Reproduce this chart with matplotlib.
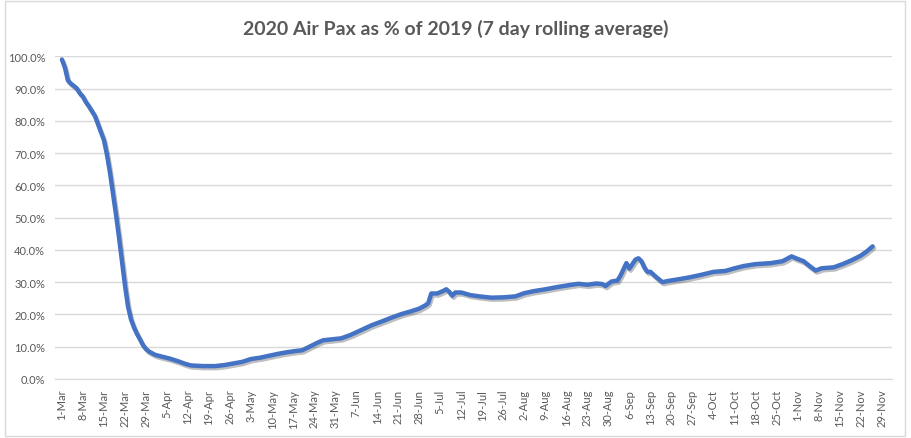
"""
2020 air passengers as a share of 2019, 7 day rolling average.
"""
import matplotlib
matplotlib.use('Agg')
import matplotlib.pyplot as plt
import matplotlib.patheffects as pe
from matplotlib.patches import Rectangle
from matplotlib.ticker import PercentFormatter
import pandas as pd

# Data (day, % of 2019)
dates = [
    '2020-03-01', '2020-03-02', '2020-03-03', '2020-03-04', '2020-03-05',
    '2020-03-06', '2020-03-07', '2020-03-08', '2020-03-09', '2020-03-10',
    '2020-03-11', '2020-03-12', '2020-03-13', '2020-03-14', '2020-03-15',
    '2020-03-16', '2020-03-17', '2020-03-18', '2020-03-19', '2020-03-20',
    '2020-03-21', '2020-03-22', '2020-03-23', '2020-03-24', '2020-03-25',
    '2020-03-26', '2020-03-27', '2020-03-28', '2020-03-29', '2020-03-30',
    '2020-04-01', '2020-04-03', '2020-04-06', '2020-04-09', '2020-04-11',
    '2020-04-13', '2020-04-17', '2020-04-21', '2020-04-24', '2020-04-27',
    '2020-04-30', '2020-05-03', '2020-05-06', '2020-05-09', '2020-05-12',
    '2020-05-15', '2020-05-18', '2020-05-20', '2020-05-22', '2020-05-25',
    '2020-05-27', '2020-05-30', '2020-06-02', '2020-06-05', '2020-06-09',
    '2020-06-12', '2020-06-16', '2020-06-19', '2020-06-22', '2020-06-25',
    '2020-06-28', '2020-06-30', '2020-07-01', '2020-07-02', '2020-07-04',
    '2020-07-06', '2020-07-07', '2020-07-08', '2020-07-09', '2020-07-10',
    '2020-07-12', '2020-07-15', '2020-07-18', '2020-07-22', '2020-07-26',
    '2020-07-30', '2020-08-02', '2020-08-05', '2020-08-09', '2020-08-13',
    '2020-08-17', '2020-08-20', '2020-08-23', '2020-08-26', '2020-08-28',
    '2020-08-29', '2020-08-31', '2020-09-02', '2020-09-03', '2020-09-05',
    '2020-09-06', '2020-09-08', '2020-09-09', '2020-09-10', '2020-09-11',
    '2020-09-12', '2020-09-13', '2020-09-15', '2020-09-17', '2020-09-19',
    '2020-09-23', '2020-09-26', '2020-09-30', '2020-10-04', '2020-10-08',
    '2020-10-11', '2020-10-14', '2020-10-18', '2020-10-23', '2020-10-27',
    '2020-10-30', '2020-11-01', '2020-11-03', '2020-11-05', '2020-11-07',
    '2020-11-09', '2020-11-13', '2020-11-16', '2020-11-19', '2020-11-22',
    '2020-11-24', '2020-11-26',
]
pax_pct = [
    99.0, 96.5, 92.5, 91.5, 90.8,
    90.0, 88.5, 87.5, 85.8, 84.5,
    83.0, 81.5, 79.0, 76.5, 74.0,
    69.5, 64.0, 57.5, 51.0, 44.0,
    36.5, 29.0, 22.5, 18.5, 16.0,
    14.0, 12.3, 10.5, 9.3, 8.5,
    7.5, 7.0, 6.3, 5.4, 4.7,
    4.2, 4.0, 4.0, 4.3, 4.8,
    5.3, 6.2, 6.6, 7.2, 7.8,
    8.3, 8.7, 8.9, 9.8, 11.2,
    12.0, 12.3, 12.6, 13.6, 15.3,
    16.6, 18.0, 19.1, 20.1, 20.9,
    21.8, 22.8, 23.5, 26.5, 26.5,
    27.3, 27.8, 27.0, 25.8, 26.8,
    26.8, 26.0, 25.6, 25.2, 25.3,
    25.6, 26.6, 27.2, 27.8, 28.5,
    29.1, 29.5, 29.2, 29.6, 29.4,
    28.8, 30.2, 30.5, 32.0, 35.9,
    34.2, 37.0, 37.4, 36.5, 34.5,
    33.2, 33.2, 31.5, 30.0, 30.4,
    31.0, 31.5, 32.3, 33.2, 33.5,
    34.3, 35.0, 35.6, 35.9, 36.5,
    38.0, 37.2, 36.5, 35.0, 33.6,
    34.3, 34.6, 35.6, 36.8, 38.2,
    39.5, 41.1,
]
tick_start = '2020-03-01'
tick_end = '2020-11-29'
title = '2020 Air Pax as % of 2019 (7 day rolling average)'

text_color = '#595959'
grid_color = '#d9d9d9'
line_color = '#4472c4'

plt.rcParams['font.family'] = ['Lato', 'DejaVu Sans']

fig = plt.figure(figsize=(9.11, 4.39), dpi=100)
ax = fig.add_axes([0.0604, 0.1344, 0.9186, 0.7351])

x = pd.to_datetime(dates)
ax.plot(x, pax_pct, color=line_color, lw=3.2, solid_joinstyle='round',
        solid_capstyle='round', zorder=3,
        path_effects=[pe.SimpleLineShadow(offset=(1, -1.5), alpha=0.25),
                      pe.Normal()])

# Axis ranges and ticks
ticks = pd.date_range(tick_start, tick_end, freq='7D')
ax.set_xticks(ticks)
ax.set_xticklabels([f"{d.day}-{d.strftime('%b')}" for d in ticks],
                   rotation=90, fontsize=8, color=text_color)
ax.set_xlim(pd.Timestamp(tick_start) - pd.Timedelta(days=2.3),
            pd.Timestamp(tick_end) + pd.Timedelta(days=3.4))
ax.set_ylim(0, 100)
ax.set_yticks(range(0, 101, 10))
ax.yaxis.set_major_formatter(PercentFormatter(decimals=1))
ax.tick_params(axis='y', labelsize=8, colors=text_color, length=0, pad=7)
ax.tick_params(axis='x', colors=text_color, length=0, pad=7)

ax.grid(axis='y', color=grid_color, lw=1)
ax.set_axisbelow(True)
for side in ['top', 'right', 'left']:
    ax.spines[side].set_visible(False)
ax.spines['bottom'].set_color(grid_color)

fig.text(0.5, 0.935, title, ha='center', va='center', fontsize=14,
         fontweight='bold', color=text_color)

# Chart frame
fig.patches.append(Rectangle((0.005, 0.005), 0.988, 0.99,
                             transform=fig.transFigure, fill=False,
                             edgecolor=grid_color, lw=1))

fig.savefig('out.png', dpi=100)
